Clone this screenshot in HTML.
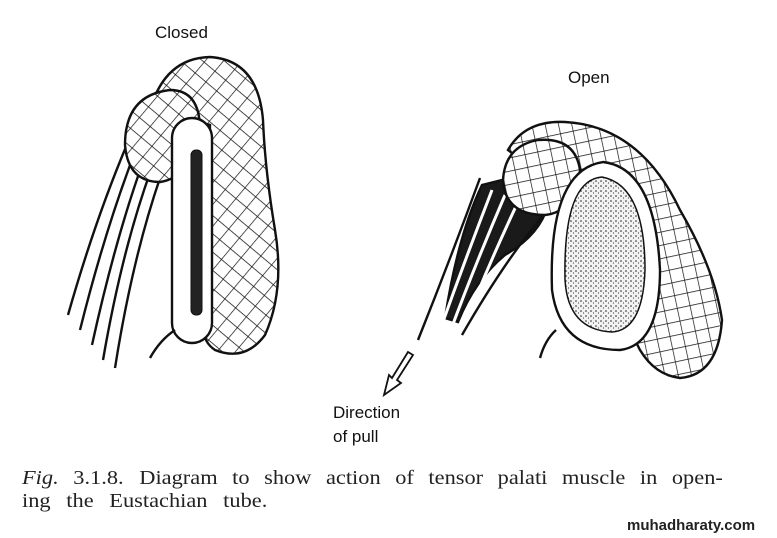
<!DOCTYPE html>
<html><head><style>
html,body{margin:0;padding:0;background:#fff;}
svg{display:block;}
</style></head><body>
<svg width="777" height="538" viewBox="0 0 777 538" xmlns="http://www.w3.org/2000/svg">
<defs>
<pattern id="h1" width="14" height="14" patternUnits="userSpaceOnUse" patternTransform="rotate(40)">
<rect width="14" height="14" fill="#fff"/><path d="M0 0H14M0 0V14" stroke="#111" stroke-width="1.4"/></pattern>
<pattern id="h2" width="13" height="13" patternUnits="userSpaceOnUse" patternTransform="rotate(-12)">
<rect width="13" height="13" fill="#fff"/><path d="M0 0H13M0 0V13" stroke="#111" stroke-width="1.4"/></pattern>
<pattern id="st" width="5" height="5" patternUnits="userSpaceOnUse">
<rect width="5" height="5" fill="#f2f2f2"/><circle cx="1" cy="1" r="0.8" fill="#222"/><circle cx="3.5" cy="3" r="0.6" fill="#444"/></pattern>
</defs>
<g fill="none" stroke="#111" stroke-width="2.4">
<path d="M128 142 Q95 220 68 315"/><path d="M135 152 Q105 230 80 330"/><path d="M143 162 Q115 240 92 345"/><path d="M151 170 Q122 250 103 360"/><path d="M160 178 Q132 260 115 368"/>
<path d="M150 110 Q165 58 210 57 Q258 60 263 120 Q265 170 275 230 Q285 290 265 335 Q245 362 215 350 Q200 340 205 320 L210 125 Q200 120 170 140 Z" fill="url(#h1)"/>
<path d="M125 145 Q125 95 170 90 Q200 90 200 130 Q190 178 160 182 Q128 182 125 145 Z" fill="url(#h1)"/>
<rect x="172" y="118" width="40" height="225" rx="20" fill="#fff"/>
<rect x="191" y="150" width="11" height="165" rx="5" fill="#222" stroke-width="1"/>
<path d="M175 330 Q160 340 150 358"/>
<path d="M482 185 Q458 235 445 318 L458 322 Q475 280 505 255 Q540 235 548 205 L522 175 Z" fill="#1a1a1a"/>
<path d="M492 190 Q465 260 440 330" stroke="#fff" stroke-width="3"/><path d="M505 195 Q475 265 450 332" stroke="#fff" stroke-width="3"/><path d="M518 202 Q486 270 462 332" stroke="#fff" stroke-width="3"/>
<path d="M480 178 Q450 260 418 340"/><path d="M548 210 Q508 255 462 335"/>
<path d="M508 150 Q525 120 565 122 Q640 126 680 210 Q715 270 722 320 Q718 375 680 378 Q655 375 640 350 L560 190 Z" fill="url(#h2)"/>
<path d="M503 180 Q505 146 538 140 Q575 137 580 170 Q575 212 545 215 Q505 215 503 180 Z" fill="url(#h2)"/>
<path d="M603 162 Q655 168 660 270 Q660 345 620 350 Q560 350 552 290 Q548 170 603 162 Z" fill="#fff"/>
<path d="M602 177 Q645 185 645 270 Q643 330 612 332 Q568 330 565 280 Q563 180 602 177 Z" fill="url(#st)" stroke-width="1.5"/>
<path d="M556 330 Q545 340 540 358"/>
<path d="M413 355 L397 380 L401 383 L384 395 L389 375 L392 378 L408 352 Z" fill="#fff" stroke-width="1.8"/>
</g>
<g font-family="Liberation Sans, sans-serif" fill="#111" font-size="17">
<text x="155" y="38">Closed</text>
<text x="568" y="83">Open</text>
<text x="333" y="418">Direction</text>
<text x="333" y="442">of pull</text>
</g>
<g font-family="Liberation Serif, serif" fill="#222" font-size="20">
<text transform="translate(22,484) scale(1.12,1)" word-spacing="8"><tspan font-style="italic">Fig.</tspan> 3.1.8.<tspan dx="14">Diagram</tspan> to show action of tensor palati muscle in open-</text>
<text transform="translate(22,507) scale(1.12,1)" word-spacing="9">ing the Eustachian tube.</text>
</g>
<text x="627" y="530" font-family="Liberation Sans, sans-serif" font-weight="bold" font-size="15" fill="#222">muhadharaty.com</text>
</svg>
</body></html>
